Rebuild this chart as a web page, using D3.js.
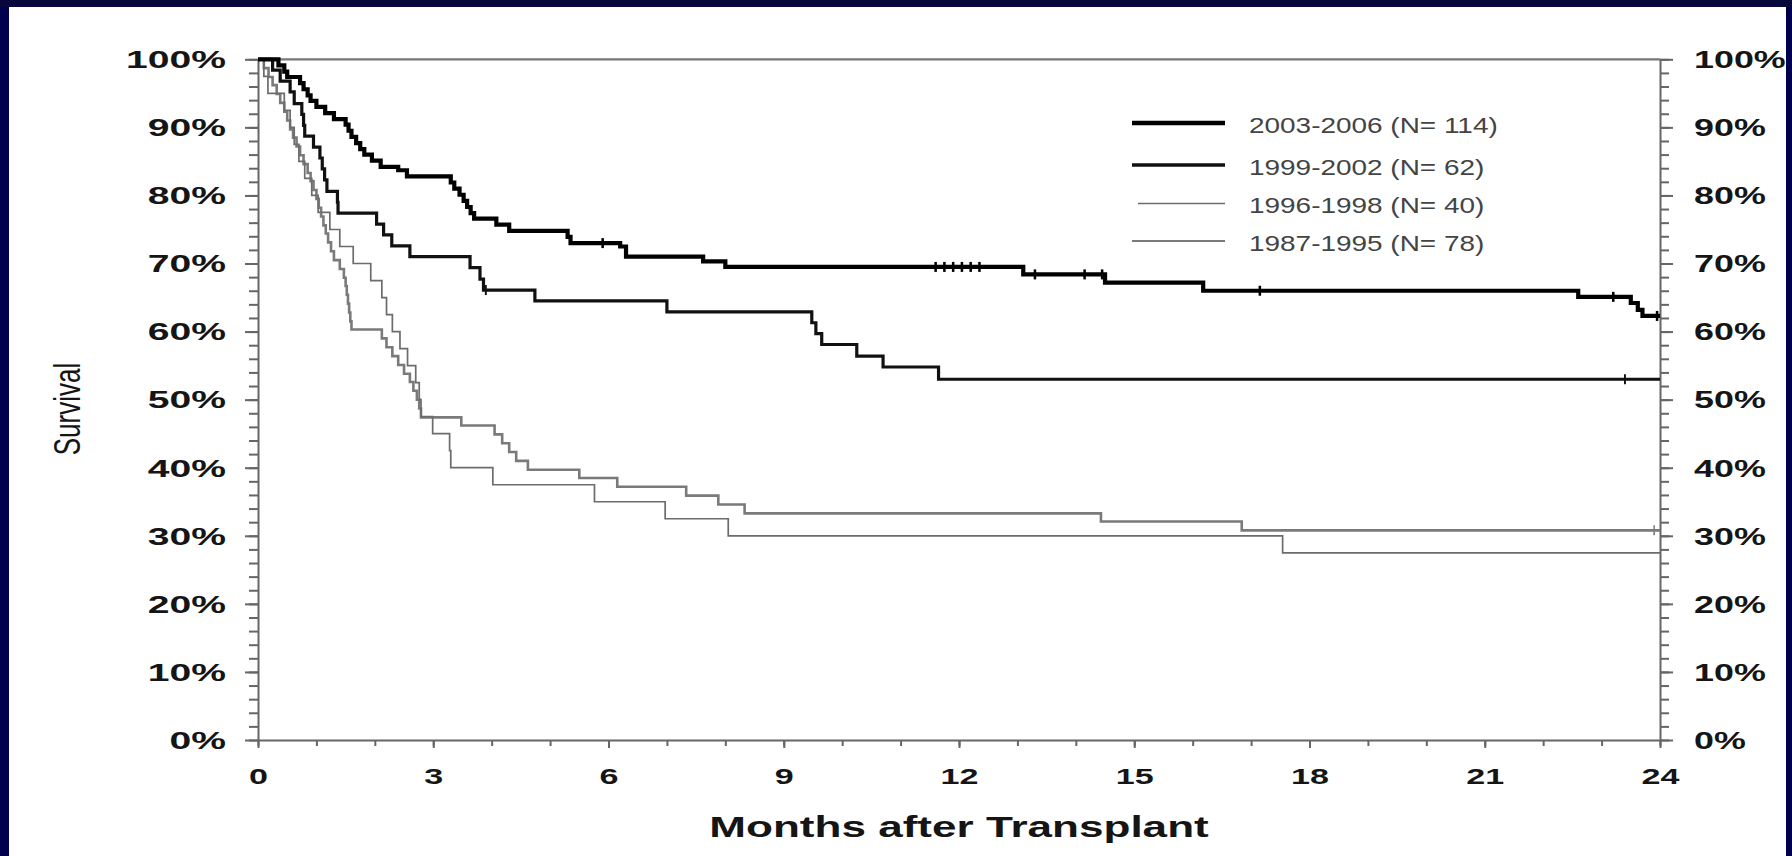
<!DOCTYPE html>
<html>
<head>
<meta charset="utf-8">
<script src="https://cdn.jsdelivr.net/npm/d3@7/dist/d3.min.js"></script>
<style>
  html, body { margin: 0; padding: 0; background: #00004e; }
  svg { display: block; }
  text { font-family: "Liberation Sans", Arial, sans-serif; }
</style>
</head>
<body>
<svg id="chart" width="1792" height="856"></svg>
<script>
// ---- Kaplan-Meier survival after transplant, by era ----
const seriesNames = ["2003-2006 (N= 114)", "1999-2002 (N= 62)", "1996-1998 (N= 40)", "1987-1995 (N= 78)"];

// step points: month at which survival (%) drops to the paired value
const months2003 = [0,0.35,0.45,0.5,0.72,0.78,0.85,0.9,1.0,1.15,1.3,1.5,1.55,1.6,1.68,1.75,1.82,1.95,2.1,2.4,2.55,3.3,3.36,3.45,3.52,3.58,3.64,3.7,4.08,4.3,5.3,5.35,6.2,6.3,7.62,8.0,13.1,14.5,16.18,22.6,23.5,23.62,23.7,24];
const surv2003   = [100,99.1,98.2,97.4,96.5,95.6,94.7,93.9,93.0,92.1,91.2,90.4,89.5,88.6,87.7,86.8,86.0,85.1,84.2,83.7,82.8,81.9,81.0,80.1,79.2,78.3,77.4,76.6,75.7,74.8,73.9,73.0,72.5,71.0,70.3,69.5,68.4,67.2,66.0,65.1,64.2,63.2,62.3,62.3];
const censor2003 = [5.9,11.6,11.75,11.9,12.05,12.2,12.35,13.3,14.15,14.45,17.15,23.2,23.95];

const months1999 = [0,0.25,0.38,0.55,0.62,0.75,0.78,0.8,0.95,1.06,1.1,1.14,1.18,1.36,1.37,2.03,2.15,2.29,2.6,3.63,3.8,3.86,4.74,7.0,9.48,9.55,9.65,10.25,10.7,11.65,24];
const surv1999   = [100,98.4,96.8,95.2,93.5,91.9,90.3,88.7,87.1,85.5,83.9,82.3,80.6,79.0,77.4,75.8,74.2,72.6,71.0,69.4,67.7,66.1,64.5,62.9,61.3,59.7,58.1,56.4,54.8,53.0,53.0];
const censor1999 = [3.9,23.4];

const months1996 = [0,0.1,0.17,0.45,0.55,0.62,0.7,0.8,0.92,1.03,1.23,1.4,1.63,1.93,2.12,2.2,2.3,2.43,2.56,2.7,2.76,2.79,2.99,3.28,3.3,4.02,5.76,6.97,8.05,17.54,24];
const surv1996   = [100,97.5,95,92.5,90,87.5,85,82.5,80,77.5,75,72.5,70,67.5,65,62.5,60,57.5,55,52.5,50,47.5,45,42.5,40,37.5,35,32.5,30,27.5,27.5];
const censor1996 = [];

const months1987 = [0,0.1,0.18,0.25,0.32,0.38,0.45,0.5,0.55,0.6,0.66,0.72,0.78,0.85,0.9,0.95,1.0,1.04,1.08,1.12,1.16,1.2,1.25,1.3,1.4,1.47,1.5,1.52,1.54,1.56,1.58,1.6,2.12,2.2,2.3,2.4,2.5,2.6,2.66,2.72,2.76,2.79,3.48,4.05,4.18,4.3,4.42,4.62,5.5,6.15,7.33,7.88,8.33,14.43,16.84,24];
const surv1987   = [100,98.7,97.4,96.2,94.9,93.6,92.3,91.0,89.7,88.5,87.2,85.9,84.6,83.3,82.1,80.8,79.5,78.2,76.9,75.6,74.4,73.1,71.8,70.5,69.2,67.9,66.7,65.4,64.1,62.8,61.5,60.3,59.0,57.7,56.4,55.1,53.8,52.6,51.3,50.0,48.7,47.4,46.2,44.9,43.6,42.3,41.0,39.7,38.5,37.2,35.9,34.6,33.3,32.1,30.8,30.8];
const censor1987 = [23.9];

const xTicksMajor = [0,3,6,9,12,15,18,21,24];
const xTicksMinor = d3.range(0, 25, 1);
const yTicksMajor = [0,10,20,30,40,50,60,70,80,90,100];
const yTicksMinor = d3.range(0, 101, 2);

const series = [
  { name: seriesNames[0], m: months2003, s: surv2003, c: censor2003, color: "#000000", width: 4.2, legendWidth: 4.5 },
  { name: seriesNames[1], m: months1999, s: surv1999, c: censor1999, color: "#111111", width: 3.2, legendWidth: 3.6 },
  { name: seriesNames[2], m: months1996, s: surv1996, c: censor1996, color: "#6c6c6c", width: 1.7, legendWidth: 1.4 },
  { name: seriesNames[3], m: months1987, s: surv1987, c: censor1987, color: "#7a7a7a", width: 2.6, legendWidth: 2.0 }
];

const svg = d3.select("#chart");

// white slide panel inside the navy frame
svg.append("rect").attr("x", 9).attr("y", 7).attr("width", 1777).attr("height", 849).attr("fill", "#ffffff");
svg.append("rect").attr("x", 0).attr("y", 0).attr("width", 1792).attr("height", 7).attr("fill", "#07073c");

const x = d3.scaleLinear().domain([0, 24]).range([258, 1660]);
const y = d3.scaleLinear().domain([0, 100]).range([740, 59.3]);

const axisColor = "#666";

function styleAxis(g) {
  g.selectAll("path.domain").attr("stroke", axisColor).attr("stroke-width", 2);
  g.selectAll(".tick line").attr("stroke", axisColor).attr("stroke-width", 2);
}

// minor ticks
svg.append("g").attr("transform", `translate(${x(0)},0)`)
  .call(d3.axisLeft(y).tickValues(yTicksMinor).tickSize(9).tickSizeOuter(0).tickFormat(""))
  .call(styleAxis).call(g => g.select(".domain").remove());
svg.append("g").attr("transform", `translate(${x(24)},0)`)
  .call(d3.axisRight(y).tickValues(yTicksMinor).tickSize(9).tickSizeOuter(0).tickFormat(""))
  .call(styleAxis).call(g => g.select(".domain").remove());
svg.append("g").attr("transform", `translate(0,${y(0)})`)
  .call(d3.axisBottom(x).tickValues(xTicksMinor).tickSize(6).tickSizeOuter(0).tickFormat(""))
  .call(styleAxis).call(g => g.select(".domain").remove());

// major left axis with labels
const gl = svg.append("g").attr("transform", `translate(${x(0)},0)`)
  .call(d3.axisLeft(y).tickValues(yTicksMajor).tickSize(13).tickSizeOuter(0).tickFormat(d => d + "%"))
  .call(styleAxis);
gl.selectAll(".tick text")
  .attr("x", 0).attr("dy", "0.36em")
  .attr("text-anchor", "end")
  .attr("transform", "translate(-32,0) scale(1.7,1)")
  .attr("fill", "#151515").attr("font-size", 23).attr("font-weight", "bold");

// major right axis with labels
const gr = svg.append("g").attr("transform", `translate(${x(24)},0)`)
  .call(d3.axisRight(y).tickValues(yTicksMajor).tickSize(13).tickSizeOuter(0).tickFormat(d => d + "%"))
  .call(styleAxis);
gr.selectAll(".tick text")
  .attr("x", 0).attr("dy", "0.36em")
  .attr("text-anchor", "start")
  .attr("transform", "translate(34,0) scale(1.56,1)")
  .attr("fill", "#151515").attr("font-size", 23).attr("font-weight", "bold");

// bottom axis
const gb = svg.append("g").attr("transform", `translate(0,${y(0)})`)
  .call(d3.axisBottom(x).tickValues(xTicksMajor).tickSize(8).tickSizeOuter(0).tickFormat(d3.format("d")))
  .call(styleAxis);
gb.selectAll(".tick text")
  .attr("y", 0).attr("dy", 0)
  .attr("text-anchor", "middle")
  .attr("transform", "translate(0,44) scale(1.55,1)")
  .attr("fill", "#151515").attr("font-size", 22).attr("font-weight", "bold");

// top frame line at 100%
svg.append("line")
  .attr("x1", x(0)).attr("x2", x(24)).attr("y1", y(100)).attr("y2", y(100))
  .attr("stroke", "#777").attr("stroke-width", 2.2);

// survival curves
const stepLine = d3.line().curve(d3.curveStepAfter).x(d => x(d[0])).y(d => y(d[1]));

function valueAt(sr, month) {
  const i = d3.bisectRight(sr.m, month) - 1;
  return sr.s[Math.max(0, i)];
}

// draw the older eras first so the recent ones sit on top
series.slice().reverse().forEach(sr => {
  const pts = sr.m.map((mv, i) => [mv, sr.s[i]]);
  svg.append("path")
    .attr("d", stepLine(pts))
    .attr("fill", "none")
    .attr("stroke", sr.color)
    .attr("stroke-width", sr.width)
    .attr("stroke-linejoin", "miter");
  svg.append("g").selectAll("line").data(sr.c).join("line")
    .attr("x1", d => x(d)).attr("x2", d => x(d))
    .attr("y1", d => y(valueAt(sr, d)) - 5).attr("y2", d => y(valueAt(sr, d)) + 5)
    .attr("stroke", sr.color).attr("stroke-width", Math.max(1.5, sr.width * 0.6));
});

// legend
const legendY = [123, 165, 203.5, 241];
const legend = svg.append("g");
series.forEach((sr, i) => {
  legend.append("line")
    .attr("x1", i === 2 ? 1138 : 1132).attr("x2", 1225)
    .attr("y1", legendY[i]).attr("y2", legendY[i])
    .attr("stroke", sr.color).attr("stroke-width", sr.legendWidth);
  legend.append("text")
    .attr("x", 0).attr("y", 0).attr("dy", "0.36em")
    .attr("transform", `translate(1249,${legendY[i] + 2}) scale(1.3,1)`)
    .attr("font-size", 21.5).attr("fill", "#444")
    .text(sr.name);
});

// axis titles
svg.append("text")
  .attr("transform", `translate(${(x(0) + x(24)) / 2},837) scale(1.52,1)`)
  .attr("text-anchor", "middle")
  .attr("font-size", 29).attr("font-weight", "bold").attr("fill", "#151515")
  .text("Months after Transplant");

svg.append("text")
  .attr("transform", `translate(80,409) scale(1.4,1) rotate(-90)`)
  .attr("text-anchor", "middle")
  .attr("font-size", 26).attr("fill", "#151515")
  .text("Survival");
</script>
</body>
</html>
